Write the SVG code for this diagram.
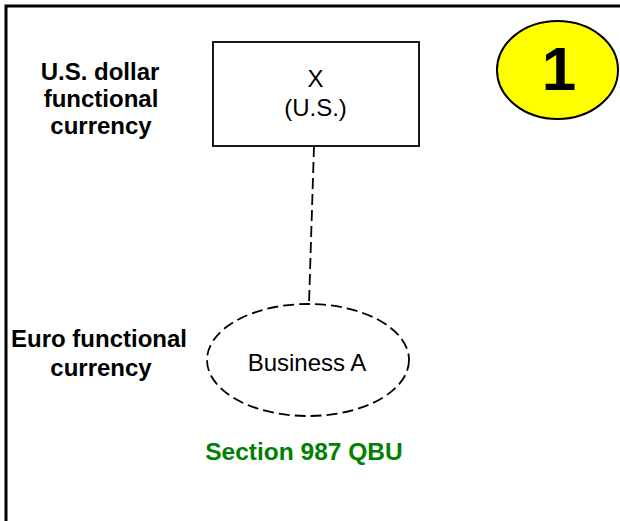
<svg xmlns="http://www.w3.org/2000/svg" width="620" height="521" viewBox="0 0 620 521">
<style>
.lbl{font-family:"Liberation Sans",Arial,sans-serif;font-weight:bold;font-size:24px;fill:#000;text-anchor:middle}
.txt{font-family:"Liberation Sans",Arial,sans-serif;font-size:24px;fill:#000;text-anchor:middle}
.grn{font-family:"Liberation Sans",Arial,sans-serif;font-weight:bold;font-size:24.5px;fill:#008000;text-anchor:middle}
.dash{fill:none;stroke:#000;stroke-width:1.8;stroke-dasharray:11 5}
</style>
<rect width="620" height="521" fill="#fff"/>
<g id="frame" fill="none" stroke="#000" stroke-width="3">
<polyline points="6,521 6,6 620,6"/>
</g>
<g id="connectors">
<line class="dash" x1="314" y1="146" x2="309" y2="304"/>
</g>
<g id="node-x">
<rect x="213" y="42" width="206" height="104" fill="#fff" stroke="#000" stroke-width="1.8"/>
<text class="txt" x="315.5" y="87">X</text>
<text class="txt" x="315.5" y="116">(U.S.)</text>
</g>
<g id="node-business-a">
<ellipse class="dash" cx="308" cy="360" rx="101" ry="56"/>
<text class="txt" x="307" y="371">Business A</text>
</g>
<g id="badge">
<ellipse cx="557.5" cy="70" rx="60.5" ry="49" fill="#ffff00" stroke="#000" stroke-width="2"/>
<text x="559" y="90" font-family="Liberation Sans,Arial,sans-serif" font-weight="bold" font-size="62" text-anchor="middle">1</text>
</g>
<g id="labels">
<text class="lbl" x="100" y="80">U.S. dollar</text>
<text class="lbl" x="101" y="107">functional</text>
<text class="lbl" x="101" y="134">currency</text>
<text class="lbl" x="99" y="347">Euro functional</text>
<text class="lbl" x="101" y="376">currency</text>
<text class="grn" x="304" y="460">Section 987 QBU</text>
</g>
</svg>
